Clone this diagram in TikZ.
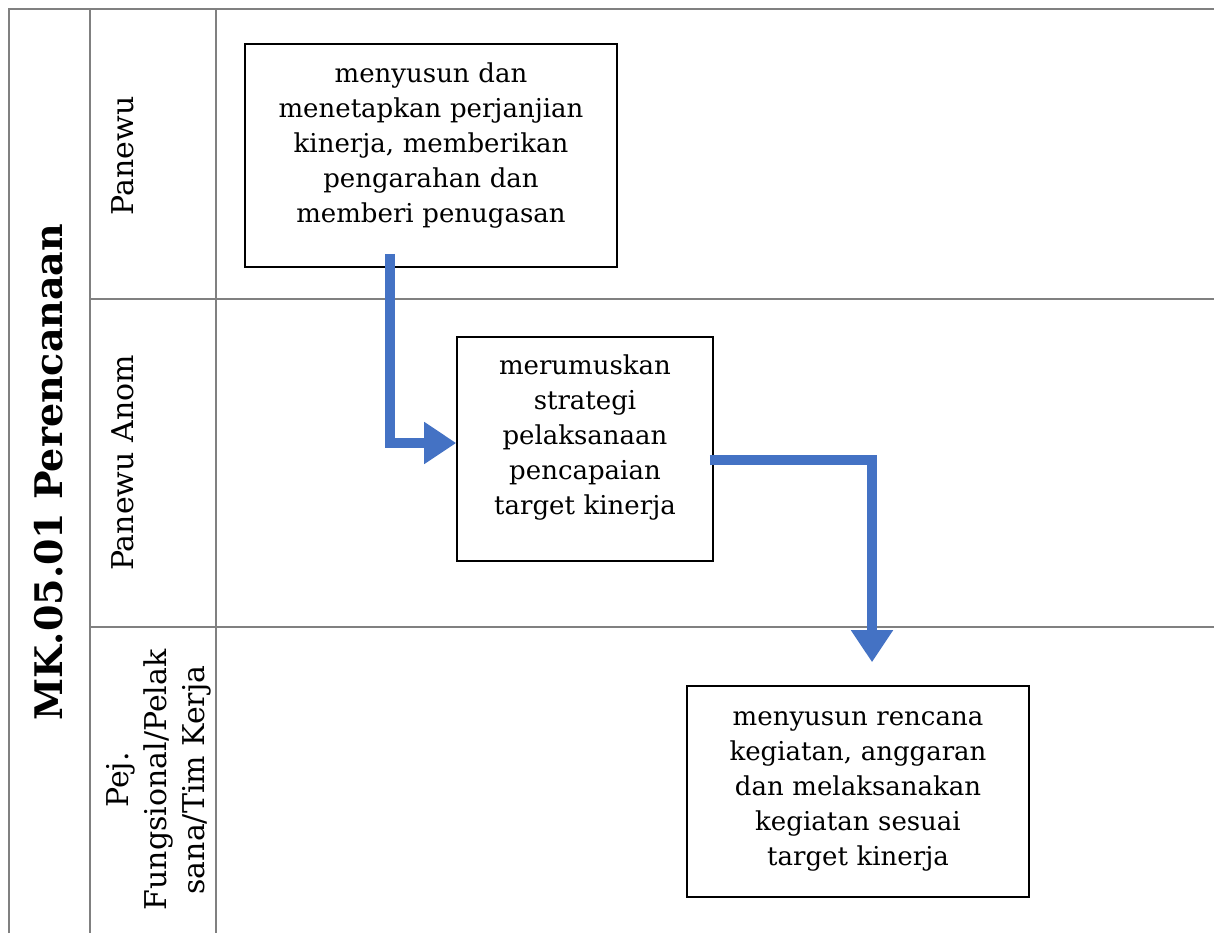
\documentclass[tikz,border=0pt]{standalone}
\usepackage{fontspec}
\setmainfont{DejaVu Serif}
\usetikzlibrary{arrows.meta,positioning,calc}
\definecolor{cFlow}{HTML}{4472C4}
\definecolor{cGrid}{HTML}{808080}
\tikzset{
  laneline/.style={cGrid, line width=1pt},
  lanelabel/.style={rotate=90, align=center, inner sep=0pt, font=\fontsize{15}{19}\selectfont},
  taskbox/.style={rectangle, draw=black, line width=0.8pt, align=center, inner sep=2pt, font=\fontsize{13}{17.5}\selectfont},
  flow/.style={-{Triangle[length=16pt, width=20pt]}, cFlow, line width=5pt},
}
\begin{document}
\begin{tikzpicture}[x=0.5pt, y=-0.5pt]
  \useasboundingbox (0,0) rectangle (1214,933);
  % swimlane grid
  \draw[laneline] (9,933) -- (9,9) -- (1214,9);
  \foreach \x in {90,216} \draw[laneline] (\x,9) -- (\x,933);
  \foreach \y in {299,627} \draw[laneline] (90,\y) -- (1214,\y);
  % headings
  \node[rotate=90, inner sep=0pt, font=\bfseries\fontsize{19}{23}\selectfont] (title) at (49,472) {MK.05.01 Perencanaan};
  \node[lanelabel] (lane1) at (123,156) {Panewu};
  \node[lanelabel] (lane2) at (123,463) {Panewu Anom};
  \node[lanelabel] (lane3) at (159,780) {Pej.\\Fungsional/Pelak\\sana/Tim Kerja};
  % tasks
  \node[taskbox, text width=182pt, minimum width=186pt, minimum height=111.5pt, text depth=83pt] (t1) at (431,155.5) {menyusun dan\\menetapkan perjanjian\\kinerja, memberikan\\pengarahan dan\\memberi penugasan};
  \node[taskbox, text width=124pt, minimum width=128pt, minimum height=112pt, text depth=84pt] (t2) at (585,449) {merumuskan\\strategi\\pelaksanaan\\pencapaian\\target kinerja};
  \node[taskbox, text width=167pt, minimum width=171pt, minimum height=105.5pt, text depth=73pt] (t3) at (858,791.5) {menyusun rencana\\kegiatan, anggaran\\dan melaksanakan\\kegiatan sesuai\\target kinerja};
  % flow
  \draw[flow] ([xshift=-20.5pt, yshift=7pt]t1.south) |- ([yshift=3pt]t2.west);
  \draw[flow] ([xshift=-2pt, yshift=-5.5pt]t2.east) -| ([xshift=7pt, yshift=11.5pt]t3.north);
\end{tikzpicture}
\end{document}
